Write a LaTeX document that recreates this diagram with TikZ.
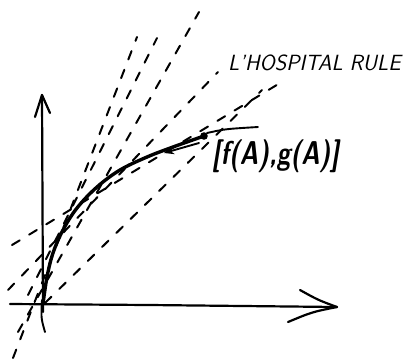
\documentclass[tikz,border=0pt]{standalone}
\usetikzlibrary{arrows.meta}
\begin{document}
\begin{tikzpicture}[x=1pt,y=-1pt,
  dline/.style={line width=2pt, dash pattern=on 9pt off 11pt, line cap=round},
  axis/.style={line width=2.2pt, line cap=round, line join=round},
  curv/.style={line width=3.4pt, line cap=round, line join=round},
  thin/.style={line width=1.9pt, line cap=round},
  hand/.style={font=\sffamily\slshape, inner sep=0pt}]
\useasboundingbox (0,0) rectangle (406,360);
% named points
\coordinate (O) at (43,304);
\coordinate (P) at (204,136);
% dashed lines
\draw[dline] (13,358) -- (137,37);
\draw[dline] (18,332) -- (199,12);
\draw[dline] (28,295) -- (157,38);
\draw[dline] (8,290) -- (218,72);
\draw[dline] (12,245) -- (285,80);
\draw[dline] (45,303) -- (262,90);
% axes
\draw[axis] (43,312) -- (42,95);
\draw[axis] (35,117) -- (42,95) -- (50,113);
\draw[axis] (10,304) -- (150,305) -- (337,307);
\draw[axis] (300,290) .. controls (318,300) .. (337,307) .. controls (312,312) .. (288,322);
\draw[thin] (42,300) .. controls (41,318) .. (45,332);
% curve
\draw[curv] plot[smooth, tension=0.6] coordinates {(O) (47,277) (53,253) (63,230) (77,208) (97,187) (120,170) (147,157) (173,147) (P)};
\draw[thin] (207,133) .. controls (225,129) .. (258,127);
\fill (P) circle (3.8pt);
% small arrow
\draw[thin, -{Stealth[length=10pt,width=8pt]}] (199,143) -- (164,153);
% texts
\node[hand, anchor=west, font=\sffamily\slshape\fontsize{22}{22}\selectfont] (title) at (228,63) {L'HOSPITAL RULE};
\node[hand, anchor=west, font=\sffamily\bfseries\slshape\fontsize{33}{33}\selectfont] (lab) at (212,156) {\scalebox{0.76}[1]{[f(A),g(A)]}};
\end{tikzpicture}
\end{document}
